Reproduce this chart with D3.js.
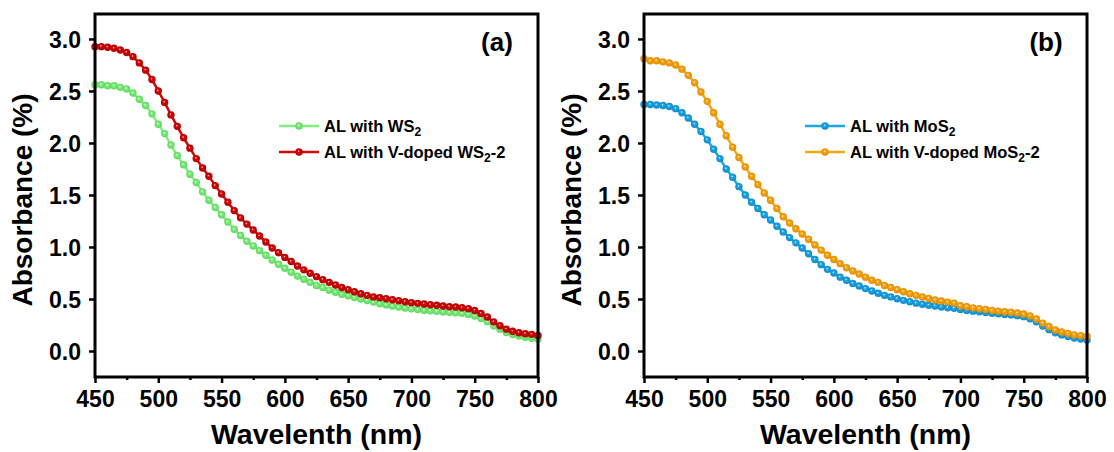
<!DOCTYPE html>
<html><head><meta charset="utf-8">
<script src="https://cdn.jsdelivr.net/npm/d3@7"></script>
<style>body{margin:0;background:#fff}svg{display:block}text{font-family:"Liberation Sans",Arial,sans-serif;font-weight:bold}</style>
</head><body>
<script>
const wavelength = d3.range(450, 801, 5);
const xTicks = [450, 500, 550, 600, 650, 700, 750, 800];
const yTicks = [0.0, 0.5, 1.0, 1.5, 2.0, 2.5, 3.0];

const alWS2 = [2.56,2.56,2.55,2.55,2.535,2.52,2.48,2.42,2.36,2.28,2.18,2.09,1.98,1.88,1.79,1.70,1.62,1.53,1.45,1.38,
 1.31,1.24,1.17,1.11,1.055,1.01,0.965,0.92,0.875,0.834,0.795,0.757,0.72,0.69,0.66,0.63,0.61,0.585,0.565,0.545,
 0.53,0.515,0.50,0.485,0.47,0.455,0.443,0.432,0.422,0.413,0.405,0.398,0.392,0.386,0.381,0.376,0.372,0.367,0.362,0.352,
 0.337,0.312,0.282,0.243,0.208,0.178,0.158,0.143,0.132,0.123,0.116];
const alVWS2 = [2.926,2.926,2.92,2.91,2.894,2.87,2.83,2.77,2.70,2.61,2.50,2.39,2.27,2.16,2.05,1.95,1.85,1.76,1.68,1.59,
 1.51,1.43,1.35,1.28,1.22,1.163,1.106,1.048,0.99,0.945,0.90,0.86,0.817,0.78,0.747,0.715,0.686,0.66,0.635,0.61,
 0.59,0.57,0.55,0.535,0.52,0.513,0.503,0.493,0.484,0.474,0.465,0.458,0.452,0.445,0.44,0.433,0.426,0.423,0.416,0.407,
 0.39,0.36,0.327,0.28,0.243,0.21,0.19,0.176,0.166,0.16,0.15];
const alMoS2 = [2.37,2.37,2.365,2.36,2.35,2.33,2.29,2.24,2.18,2.11,2.03,1.94,1.85,1.75,1.67,1.58,1.50,1.43,1.37,1.31,
 1.26,1.20,1.145,1.09,1.04,0.99,0.935,0.88,0.83,0.785,0.75,0.71,0.68,0.65,0.625,0.60,0.577,0.555,0.535,0.52,
 0.503,0.487,0.474,0.46,0.45,0.44,0.433,0.423,0.416,0.41,0.40,0.39,0.383,0.377,0.37,0.363,0.357,0.352,0.347,0.34,
 0.33,0.31,0.28,0.24,0.205,0.175,0.155,0.14,0.125,0.115,0.105];
const alVMoS2 = [2.81,2.79,2.79,2.78,2.77,2.75,2.71,2.65,2.58,2.49,2.40,2.29,2.18,2.07,1.96,1.86,1.77,1.68,1.60,1.52,
 1.45,1.37,1.29,1.23,1.175,1.125,1.074,1.02,0.97,0.92,0.88,0.84,0.80,0.77,0.74,0.71,0.68,0.66,0.63,0.61,
 0.59,0.57,0.55,0.535,0.52,0.505,0.49,0.48,0.47,0.46,0.435,0.425,0.415,0.407,0.40,0.39,0.383,0.377,0.372,0.365,
 0.355,0.338,0.307,0.268,0.235,0.202,0.183,0.168,0.155,0.148,0.14];

const W = 1114, H = 452;
const svg = d3.select("body").append("svg").attr("width", W).attr("height", H);
const defs = svg.append("defs");

function grad(id, col, edge) {
  const g = defs.append("radialGradient").attr("id", id).attr("cx", "0.5").attr("cy", "0.5").attr("r", "0.5")
    .attr("fx", "0.42").attr("fy", "0.38");
  g.append("stop").attr("offset", "0").attr("stop-color", "#ffffff").attr("stop-opacity", 0.9);
  g.append("stop").attr("offset", "0.3").attr("stop-color", col);
  g.append("stop").attr("offset", "1").attr("stop-color", edge);
}

function panel(opt) {
  const x = d3.scaleLinear().domain([450, 800]).range([opt.left, opt.right]);
  const y = d3.scaleLinear().domain([-0.25, 3.24]).range([377, 14]);
  const g = svg.append("g");

  opt.series.forEach((s, k) => {
    grad(opt.id + k, s.color, s.edge);
    const line = d3.line().x((d, i) => x(wavelength[i])).y(d => y(d));
    g.append("path").datum(s.values).attr("d", line).attr("fill", "none")
      .attr("stroke", s.color).attr("stroke-width", 2.5);
    g.selectAll(null).data(s.values).enter().append("circle")
      .attr("cx", (d, i) => x(wavelength[i])).attr("cy", d => y(d)).attr("r", 3.7)
      .attr("fill", `url(#${opt.id + k})`);
  });

  const ax = g.append("g").attr("transform", `translate(0,377)`)
    .call(d3.axisBottom(x).tickValues(xTicks).tickFormat(d3.format("d")).tickSize(6).tickPadding(8));
  const axm = g.append("g").attr("transform", `translate(0,377)`)
    .call(d3.axisBottom(x).tickValues(d3.range(475, 800, 50)).tickFormat("").tickSize(3));
  const ay = g.append("g").attr("transform", `translate(${opt.left},0)`)
    .call(d3.axisLeft(y).tickValues(yTicks).tickFormat(d3.format(".1f")).tickSize(6).tickPadding(8));
  [ax, axm, ay].forEach(a => {
    a.select(".domain").remove();
    a.selectAll("line").attr("stroke", "#000").attr("stroke-width", 2.5);
    a.selectAll("text").attr("fill", "#000").style("font-size", "23px").style("font-weight", "bold")
      .style("font-family", "'Liberation Sans', Arial, sans-serif");
  });
  ax.selectAll("text").attr("dy", "0.71em").attr("y", 14);
  ay.selectAll("text").attr("dy", "0.36em");

  g.append("rect").attr("x", opt.left).attr("y", 14).attr("width", opt.right - opt.left).attr("height", 363)
    .attr("fill", "none").attr("stroke", "#000").attr("stroke-width", 3);

  g.append("text").attr("x", (opt.left + opt.right) / 2).attr("y", 444).attr("text-anchor", "middle")
    .style("font-size", "28.5px").text("Wavelenth (nm)");
  g.append("text").attr("transform", `translate(${opt.left - 63},200) rotate(-90)`).attr("text-anchor", "middle")
    .style("font-size", "28px").text("Absorbance (%)");
  g.append("text").attr("x", opt.right - 41).attr("y", 51).attr("text-anchor", "middle")
    .style("font-size", "26px").text(opt.tag);

  const lg = g.append("g");
  opt.series.forEach((s, k) => {
    const yy = 126 + k * 26;
    lg.append("line").attr("x1", opt.legX).attr("x2", opt.legX + 40).attr("y1", yy).attr("y2", yy)
      .attr("stroke", s.color).attr("stroke-width", 2.5);
    lg.append("circle").attr("cx", opt.legX + 20).attr("cy", yy).attr("r", 3.7).attr("fill", `url(#${opt.id + k})`);
    const t = lg.append("text").attr("x", opt.legX + 45).attr("y", yy + 6).style("font-size", "16.5px");
    t.append("tspan").text(s.label[0]);
    t.append("tspan").attr("dy", 4).style("font-size", "12px").text("2");
    if (s.label[1]) t.append("tspan").attr("dy", -4).text(s.label[1]);
  });
}

panel({ id: "ga", left: 95, right: 538, tag: "(a)", legX: 279,
  series: [
    { values: alWS2, color: "#80ee80", edge: "#5ed65e", label: ["AL with WS", ""] },
    { values: alVWS2, color: "#d40a0a", edge: "#b00000", label: ["AL with V-doped WS", "-2"] }
  ] });
panel({ id: "gb", left: 644, right: 1087, tag: "(b)", legX: 805,
  series: [
    { values: alMoS2, color: "#1ea7e6", edge: "#1089c8", label: ["AL with MoS", ""] },
    { values: alVMoS2, color: "#f7a714", edge: "#e08c00", label: ["AL with V-doped MoS", "-2"] }
  ] });
</script>
</body></html>
